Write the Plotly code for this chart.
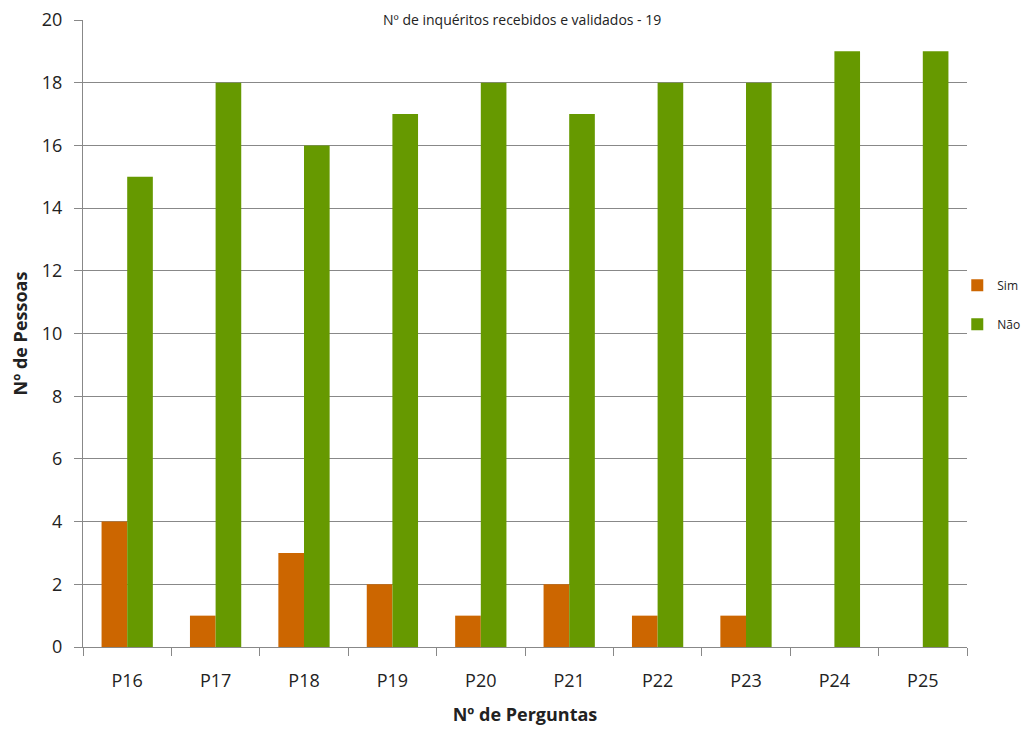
import plotly.graph_objects as go

categories = ["P16", "P17", "P18", "P19", "P20", "P21", "P22", "P23", "P24", "P25"]
sim = [4, 1, 3, 2, 1, 2, 1, 1, 0, 0]
nao = [15, 18, 16, 17, 18, 17, 18, 18, 19, 19]
y_ticks = list(range(0, 21, 2))

FONT = "Open Sans"
fig = go.Figure()
fig.add_trace(go.Bar(x=categories, y=sim, name="Sim", marker_color="#CC6600",
                     legendgroup="a", marker_line_width=0))
fig.add_trace(go.Bar(x=categories, y=nao, name="Não", marker_color="#669900",
                     legendgroup="b", marker_line_width=0))

fig.update_layout(
    width=1015, height=718,
    margin=dict(l=75, r=56, t=12, b=79, autoexpand=False),
    paper_bgcolor="white", plot_bgcolor="white",
    barmode="group", bargap=0.42, bargroupgap=0,
    font=dict(family=FONT, color="#222222", size=16),
    showlegend=True,
    legend=dict(x=0.989, y=0.546, xanchor="left", yanchor="middle",
                font=dict(size=12, family=FONT), traceorder="grouped",
                tracegroupgap=20, itemwidth=30, bgcolor="rgba(0,0,0,0)"),
    annotations=[dict(text="Nº de inquéritos recebidos e validados - 19",
                      xref="paper", yref="paper", x=0.497, y=1 + 12/627,
                      xanchor="center", yanchor="top", showarrow=False,
                      font=dict(size=14, family=FONT, color="#222222"))],
)
fig.update_xaxes(
    type="category", tickson="boundaries", ticks="outside", ticklen=8,
    tickcolor="#888888", showline=True, linecolor="#888888", linewidth=1,
    showgrid=False, tickfont=dict(size=18, family=FONT), automargin=False,
    ticklabelstandoff=17,
    title=dict(text="<b>Nº de Perguntas</b>", font=dict(size=18, family=FONT), standoff=20),
)
fig.update_yaxes(
    range=[0, 20], tickvals=y_ticks, ticks="outside", ticklen=8,
    tickcolor="#888888", showline=True, linecolor="#888888", linewidth=1,
    showgrid=True, gridcolor="#888888", gridwidth=1, zeroline=False,
    tickfont=dict(size=18, family=FONT), automargin=False,
    ticklabelstandoff=8, ticklabeloverflow="allow",
    title=dict(text="<b>Nº de Pessoas</b>", font=dict(size=18, family=FONT), standoff=22),
)
fig.write_html("out.html")
